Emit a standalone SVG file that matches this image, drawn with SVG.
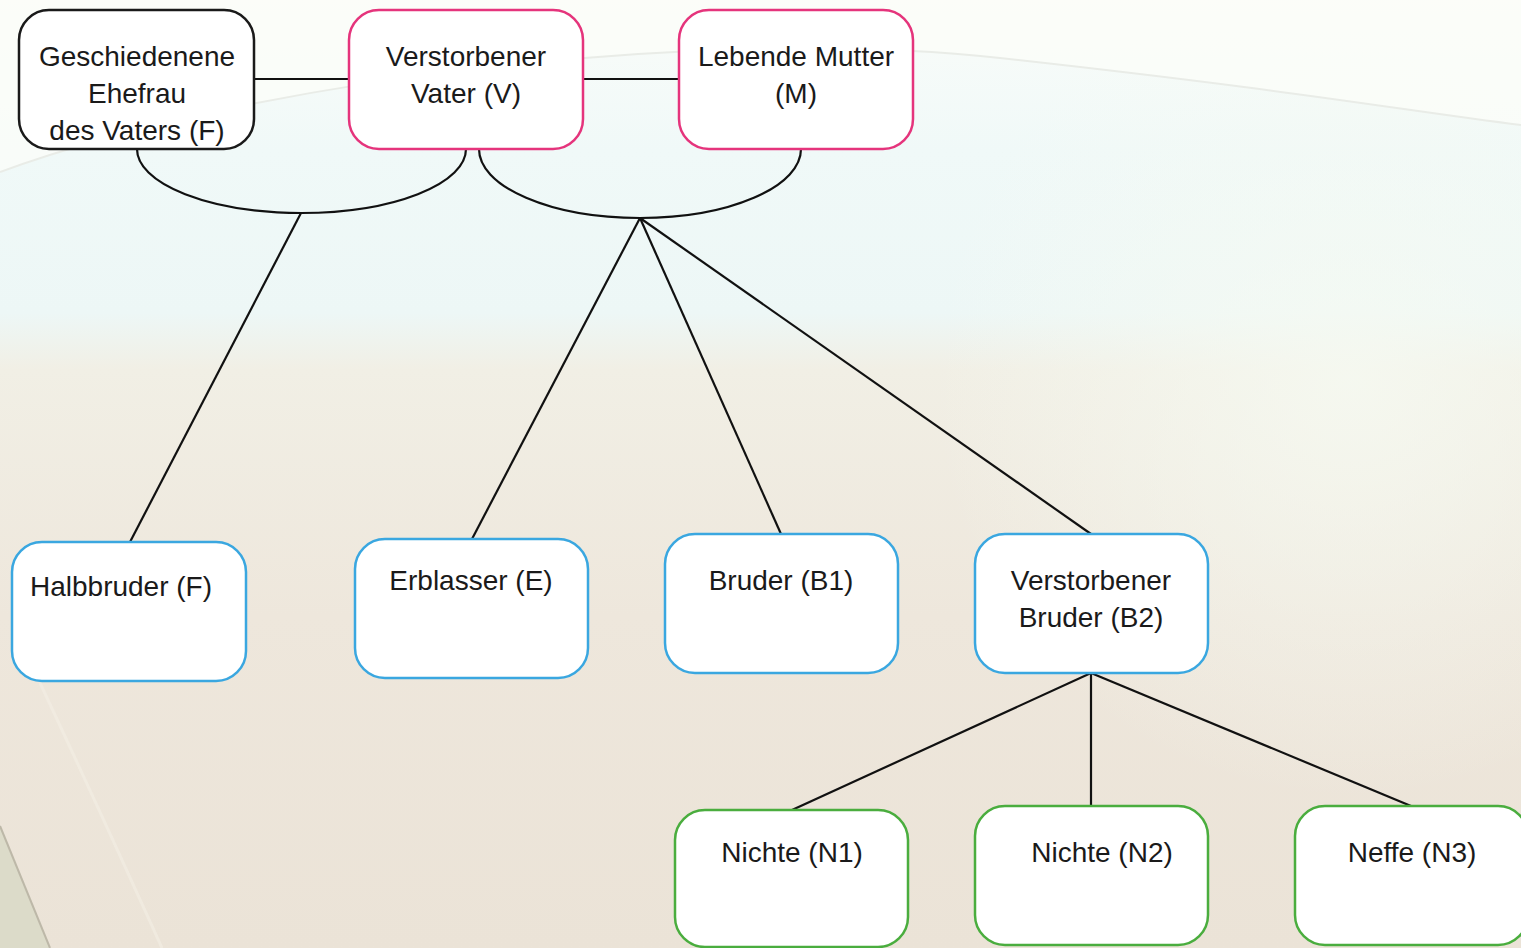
<svg xmlns="http://www.w3.org/2000/svg" width="1521" height="948" viewBox="0 0 1521 948">
  <defs>
    <linearGradient id="bgGrad" x1="0" y1="0" x2="0" y2="1">
      <stop offset="0" stop-color="#fafcf9"/>
      <stop offset="0.16" stop-color="#f0f9f8"/>
      <stop offset="0.33" stop-color="#edf7f6"/>
      <stop offset="0.39" stop-color="#f1efe5"/>
      <stop offset="0.65" stop-color="#eee7dc"/>
      <stop offset="1" stop-color="#ebe3d7"/>
    </linearGradient>
    <radialGradient id="glow" cx="1350" cy="380" r="420" gradientUnits="userSpaceOnUse">
      <stop offset="0" stop-color="#f6faf2" stop-opacity="0.8"/>
      <stop offset="1" stop-color="#f6faf2" stop-opacity="0"/>
    </radialGradient>
    <style>
      .box { fill: #ffffff; stroke-width: 2.5; }
      .plain { stroke: #1a1a1a; }
      .pink { stroke: #e5347c; }
      .blue { stroke: #3aa7e0; }
      .green { stroke: #4aad3e; }
      .lbl { font-family: "Liberation Sans", Arial, sans-serif; font-size: 28px; fill: #1a1a1a; text-anchor: middle; }
      .link { fill: none; stroke: #111111; stroke-width: 2.2; }
    </style>
  </defs>

  <!-- backdrop -->
  <g id="background">
    <rect x="0" y="0" width="1521" height="948" fill="url(#bgGrad)"/>
    <rect x="0" y="0" width="1521" height="948" fill="url(#glow)"/>
    <path d="M0,0 H1521 V125 C1400,110 1300,91 1000,58 C700,25 250,80 0,172 Z" fill="#fcfdf9" opacity="0.7"/>
    <path d="M0,172 C250,80 700,25 1000,58 C1300,91 1400,110 1521,125" fill="none" stroke="#e9ece7" stroke-width="2"/>
    <path d="M40,683 Q95,800 162,948" fill="none" stroke="#f4efe5" stroke-width="3" opacity="0.6"/>
    <path d="M0,826 Q22,880 50,948 H0 Z" fill="#dcdbc9"/>
    <path d="M0,826 Q22,880 50,948" fill="none" stroke="#bdb8a8" stroke-width="2"/>
  </g>

  <!-- family links -->
  <g id="connectors">
    <line class="link" x1="254" y1="79" x2="349" y2="79"/>
    <line class="link" x1="583" y1="79" x2="679" y2="79"/>
    <path class="link" d="M137,149 A164.5,64 0 0 0 466,149"/>
    <path class="link" d="M479,149 A161,69 0 0 0 801,149"/>
    <line class="link" x1="301" y1="213" x2="130" y2="542"/>
    <line class="link" x1="640" y1="218" x2="472" y2="539"/>
    <line class="link" x1="640" y1="218" x2="781" y2="534"/>
    <line class="link" x1="640" y1="218" x2="1091" y2="534"/>
    <line class="link" x1="1091" y1="673" x2="792" y2="810"/>
    <line class="link" x1="1091" y1="673" x2="1091" y2="806"/>
    <line class="link" x1="1091" y1="673" x2="1411" y2="806"/>
  </g>

  <g id="node-F">
    <rect class="box plain" x="19" y="10" width="235" height="139" rx="30"/>
    <text class="lbl" x="137" y="66">Geschiedenene</text>
    <text class="lbl" x="137" y="103">Ehefrau</text>
    <text class="lbl" x="137" y="140">des Vaters (F)</text>
  </g>
  <g id="node-V">
    <rect class="box pink" x="349" y="10" width="234" height="139" rx="30"/>
    <text class="lbl" x="466" y="66">Verstorbener</text>
    <text class="lbl" x="466" y="103">Vater (V)</text>
  </g>
  <g id="node-M">
    <rect class="box pink" x="679" y="10" width="234" height="139" rx="30"/>
    <text class="lbl" x="796" y="66">Lebende Mutter</text>
    <text class="lbl" x="796" y="103">(M)</text>
  </g>
  <g id="node-HF">
    <rect class="box blue" x="12" y="542" width="234" height="139" rx="30"/>
    <text class="lbl" x="121" y="596">Halbbruder (F)</text>
  </g>
  <g id="node-E">
    <rect class="box blue" x="355" y="539" width="233" height="139" rx="30"/>
    <text class="lbl" x="471" y="590">Erblasser (E)</text>
  </g>
  <g id="node-B1">
    <rect class="box blue" x="665" y="534" width="233" height="139" rx="30"/>
    <text class="lbl" x="781" y="590">Bruder (B1)</text>
  </g>
  <g id="node-B2">
    <rect class="box blue" x="975" y="534" width="233" height="139" rx="30"/>
    <text class="lbl" x="1091" y="590">Verstorbener</text>
    <text class="lbl" x="1091" y="627">Bruder (B2)</text>
  </g>
  <g id="node-N1">
    <rect class="box green" x="675" y="810" width="233" height="137" rx="30"/>
    <text class="lbl" x="792" y="862">Nichte (N1)</text>
  </g>
  <g id="node-N2">
    <rect class="box green" x="975" y="806" width="233" height="139" rx="30"/>
    <text class="lbl" x="1102" y="862">Nichte (N2)</text>
  </g>
  <g id="node-N3">
    <rect class="box green" x="1295" y="806" width="233" height="139" rx="30"/>
    <text class="lbl" x="1412" y="862">Neffe (N3)</text>
  </g>
</svg>
